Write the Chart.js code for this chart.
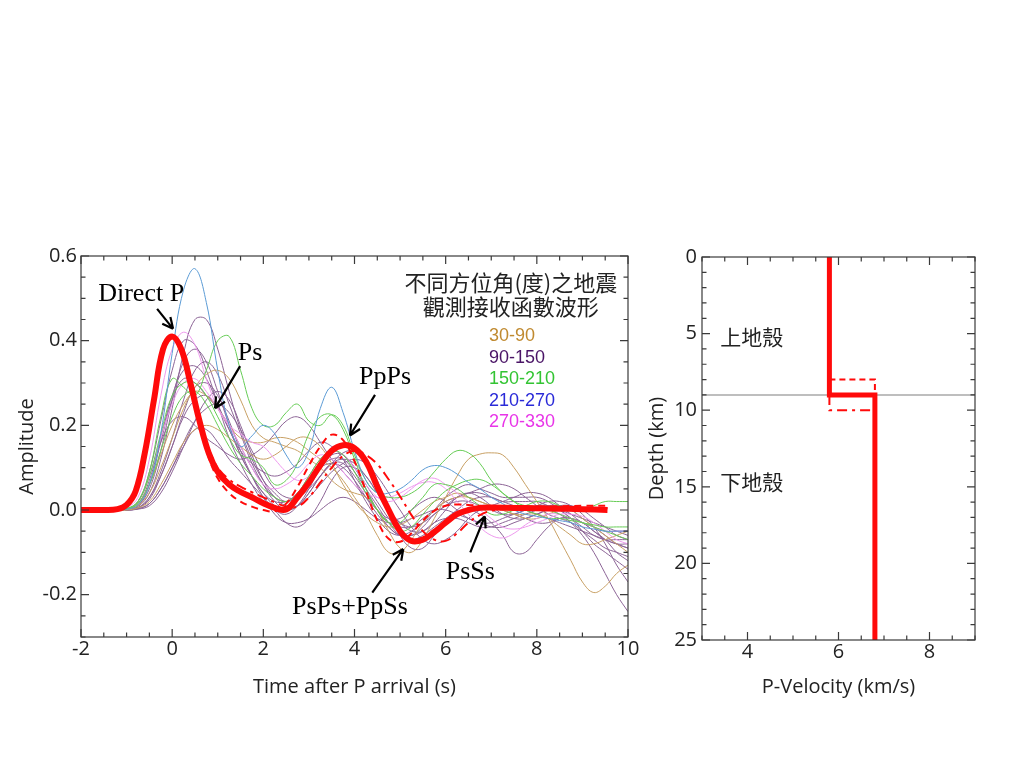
<!DOCTYPE html>
<html>
<head>
<meta charset="utf-8">
<script src="https://cdn.jsdelivr.net/npm/chart.js@4.4.0/dist/chart.umd.min.js"></script>
<style>
  html, body { margin: 0; background: #fff; }
  #wrap { position: relative; width: 1024px; height: 768px; overflow: hidden; }
  #rf   { position: absolute; left: 0;     top: 240px; width: 650px; height: 470px; }
  #vel  { position: absolute; left: 640px; top: 240px; width: 384px; height: 470px; }
</style>
</head>
<body>
<div id="wrap">
  <canvas id="rf" width="650" height="470"></canvas>
  <canvas id="vel" width="384" height="470"></canvas>
</div>
<script>
/* Receiver functions (left) and crustal P-velocity model (right) */

// ---- receiver function panel ----
// sampling times shared by the observed traces (s)
const T = [-2, -1.75, -1.5, -1.25, -1, -0.75, -0.5, -0.25, 0, 0.25, 0.5, 0.75, 1, 1.25, 1.5, 1.75,
           2, 2.25, 2.5, 2.75, 3, 3.25, 3.5, 3.75, 4, 4.25, 4.5, 4.75, 5, 5.25, 5.5, 5.75,
           6, 6.25, 6.5, 6.75, 7, 7.25, 7.5, 7.75, 8, 8.25, 8.5, 8.75, 9, 9.25, 9.5, 9.75, 10];

// observed traces, grouped by back-azimuth bin
const az30_90 = [
  [0,0,0,0, 0.001,0.01,0.04,0.1, 0.17,0.24,0.29,0.32, 0.33,0.31,0.26,0.2, 0.17,0.16,0.15,0.14, 0.12,0.1,0.07,0.05,
   0.04,0.03,0,-0.05, -0.09,-0.1,-0.07,-0.02, 0.03,0.08,0.12,0.132, 0.135,0.13,0.1,0.06, 0.02,-0.02,-0.07,-0.12, -0.17,-0.195,-0.18,-0.15, -0.13],
  [0,0,0,0, 0,0.005,0.02,0.06, 0.11,0.16,0.19,0.2, 0.19,0.17,0.15,0.13, 0.12,0.13,0.15,0.17, 0.17,0.15,0.11,0.06,
   0.02,-0.01,-0.03,-0.04, -0.035,-0.02,0,0.02, 0.03,0.04,0.03,0.02, 0.01,0,-0.01,-0.02, -0.02,-0.01,0,0, -0.02,-0.04,-0.06,-0.08, -0.1],
  [0,0,0,0, 0.002,0.015,0.06,0.13, 0.2,0.25,0.28,0.27, 0.24,0.2,0.17,0.16, 0.16,0.17,0.17,0.16, 0.14,0.12,0.1,0.07,
   0.03,-0.01,-0.06,-0.1, -0.1,-0.07,-0.03,0, 0.02,0.03,0.03,0.02, 0.01,0,-0.01,-0.01, -0.01,-0.02,-0.04,-0.06, -0.08,-0.08,-0.07,-0.06, -0.05],
];
const az90_150 = [
  [0,0,0,0, 0.001,0.008,0.04,0.12, 0.24,0.37,0.45,0.45, 0.38,0.28,0.19,0.12, 0.07,0.04,0.02,0.04, 0.08,0.12,0.14,0.13,
   0.1,0.05,0,-0.04, -0.06,-0.06,-0.04,-0.01, 0.01,0.02,0.02,0.01, 0,-0.01,-0.01,0, 0.01,0.02,0.02,0.01, -0.01,-0.04,-0.08,-0.13, -0.17],
  [0,0,0,0, 0.002,0.02,0.09,0.21, 0.33,0.4,0.39,0.33, 0.25,0.17,0.11,0.06, 0.02,0,-0.01,0.01, 0.05,0.1,0.13,0.13,
   0.1,0.06,0.02,-0.02, -0.05,-0.07,-0.07,-0.05, -0.03,-0.01,0,0.01, 0.01,0,-0.01,-0.02, -0.03,-0.03,-0.02,-0.02, -0.03,-0.05,-0.07,-0.1, -0.12],
  [0,0,0,0, 0.001,0.01,0.05,0.14, 0.26,0.35,0.38,0.35, 0.28,0.2,0.13,0.08, 0.04,0.02,0.02,0.04, 0.07,0.1,0.11,0.1,
   0.07,0.03,-0.01,-0.04, -0.06,-0.06,-0.05,-0.03, -0.02,-0.02,-0.03,-0.04, -0.04,-0.03,-0.02,-0.01, 0,0.01,0.01,0, -0.02,-0.04,-0.06,-0.08, -0.09],
  [0,0,0,0, 0,0.005,0.03,0.09, 0.17,0.26,0.33,0.35, 0.32,0.25,0.18,0.11, 0.06,0.02,0,0.01, 0.04,0.08,0.11,0.12,
   0.11,0.08,0.04,0, -0.03,-0.05,-0.05,-0.03, 0,0.03,0.04,0.03, 0.01,-0.01,-0.02,-0.02, -0.01,0,0.01,0.01, 0,-0.02,-0.04,-0.06, -0.07],
  [0,0,0,0, 0,0.005,0.03,0.08, 0.15,0.23,0.29,0.3, 0.27,0.21,0.14,0.08, 0.03,-0.01,-0.03,-0.03, -0.02,0,0.02,0.03,
   0.02,0,-0.02,-0.03, -0.03,-0.02,-0.01,0, 0,-0.01,-0.02,-0.03, -0.04,-0.04,-0.03,-0.02, -0.01,0,-0.01,-0.03, -0.06,-0.1,-0.15,-0.2, -0.24],
  [0,0,0,0, 0,0.003,0.015,0.05, 0.1,0.16,0.21,0.24, 0.25,0.23,0.19,0.14, 0.09,0.05,0.03,0.03, 0.05,0.08,0.11,0.135,
   0.14,0.12,0.07,0, -0.06,-0.09,-0.09,-0.06, -0.03,-0.01,0,-0.01, -0.03,-0.06,-0.1,-0.1, -0.07,-0.04,-0.02,-0.02, -0.03,-0.05,-0.07,-0.08, -0.09],
  [0,0,0,0, 0,0.003,0.015,0.05, 0.1,0.15,0.19,0.19, 0.16,0.12,0.09,0.06, 0.03,0,-0.03,-0.04, -0.02,0.02,0.07,0.1,
   0.1,0.08,0.04,0, -0.03,-0.04,-0.03,-0.01, 0.01,0.03,0.04,0.04, 0.03,0.02,0.01,0, -0.01,-0.02,-0.03,-0.04, -0.05,-0.06,-0.07,-0.08, -0.08],
  [0,0,0,0, 0.001,0.01,0.06,0.16, 0.26,0.31,0.3,0.27, 0.24,0.2,0.15,0.1, 0.06,0.03,0.02,0.03, 0.06,0.1,0.12,0.12,
   0.09,0.05,0.01,-0.03, -0.06,-0.07,-0.06,-0.04, -0.02,0,0.02,0.03, 0.03,0.02,0.02,0.02, 0.02,0.01,0,-0.02, -0.04,-0.06,-0.07,-0.07, -0.07],
  [0,0,0,0, 0.002,0.015,0.07,0.17, 0.27,0.33,0.34,0.31, 0.25,0.19,0.14,0.11, 0.09,0.08,0.09,0.11, 0.14,0.16,0.15,0.12,
   0.07,0.02,-0.02,-0.05, -0.06,-0.05,-0.03,0, 0.03,0.05,0.06,0.05, 0.04,0.03,0.03,0.03, 0.03,0.02,0,-0.02, -0.05,-0.08,-0.1,-0.12, -0.14],
  [0,0,0,0, 0,0.002,0.01,0.04, 0.09,0.15,0.21,0.26, 0.28,0.26,0.2,0.13, 0.07,0.03,0.01,0.01, 0.03,0.06,0.09,0.11,
   0.12,0.11,0.08,0.04, 0,-0.04,-0.07,-0.08, -0.07,-0.05,-0.02,0, 0.01,0.02,0.03,0.04, 0.04,0.03,0.01,-0.01, -0.03,-0.04,-0.05,-0.05, -0.05],
  [0,0,0,0, 0.002,0.02,0.08,0.16, 0.21,0.22,0.2,0.17, 0.15,0.13,0.12,0.13, 0.15,0.18,0.21,0.22, 0.2,0.16,0.12,0.09,
   0.06,0.03,0,-0.02, -0.02,0,0.02,0.03, 0.02,0,-0.02,-0.03, -0.03,-0.02,-0.01,0, 0.01,0.01,0,-0.01, -0.02,-0.03,-0.04,-0.05, -0.06],
  [0,0,0,0, 0,0.005,0.025,0.08, 0.15,0.22,0.26,0.27, 0.24,0.19,0.13,0.08, 0.04,0.01,0,0.01, 0.04,0.08,0.11,0.11,
   0.08,0.04,0,-0.03, -0.04,-0.04,-0.02,0, 0.02,0.03,0.04,0.05, 0.06,0.06,0.05,0.03, 0.01,-0.01,-0.02,-0.03, -0.05,-0.07,-0.09,-0.1, -0.11],
];
const az150_210 = [
  [0,0,0,0, 0.003,0.02,0.09,0.22, 0.31,0.29,0.27,0.33, 0.4,0.41,0.33,0.24, 0.2,0.2,0.23,0.25, 0.21,0.2,0.225,0.2,
   0.13,0.07,0.04,0.03, 0.03,0.04,0.06,0.09, 0.12,0.14,0.135,0.11, 0.07,0.04,0.02,0.01, 0.005,0,-0.01,-0.02, -0.03,-0.035,-0.04,-0.04, -0.04],
  [0,0,0,0, 0.003,0.02,0.08,0.18, 0.27,0.3,0.3,0.27, 0.22,0.17,0.13,0.12, 0.1,0.06,0.07,0.11, 0.18,0.22,0.225,0.19,
   0.12,0.05,0,-0.03, -0.03,0,0.03,0.06, 0.06,0.05,0.03,0.01, -0.01,-0.01,0,0.01, 0.02,0.02,0.01,0, 0,0.01,0.02,0.02, 0.02],
  [0,0,0,0, 0.002,0.015,0.06,0.14, 0.22,0.27,0.28,0.25, 0.2,0.15,0.11,0.08, 0.05,0.03,0.02,0.04, 0.08,0.12,0.14,0.13,
   0.09,0.04,0,-0.03, -0.05,-0.04,-0.01,0.02, 0.045,0.06,0.07,0.072, 0.06,0.04,0.02,0, -0.01,-0.02,-0.02,-0.025, -0.03,-0.04,-0.05,-0.06, -0.07],
];
const az210_270 = [
  [0,0,0,0, 0.002,0.012,0.06,0.18, 0.37,0.52,0.57,0.49, 0.33,0.2,0.15,0.175, 0.2,0.18,0.13,0.1, 0.14,0.24,0.29,0.23,
   0.14,0.07,0.04,0.04, 0.05,0.07,0.095,0.105, 0.1,0.085,0.065,0.05, 0.03,0.015,0,-0.01, -0.015,-0.02,-0.025,-0.03, -0.04,-0.045,-0.05,-0.05, -0.05],
];
const az270_330 = [
  [0,0,0,0, 0.005,0.03,0.12,0.27, 0.38,0.42,0.39,0.31, 0.24,0.2,0.18,0.16, 0.15,0.12,0.09,0.07, 0.08,0.11,0.14,0.13,
   0.1,0.06,0.03,0.02, 0.03,0.05,0.07,0.075, 0.06,0.04,0.02,0, -0.02,-0.04,-0.045,-0.04, -0.03,-0.02,-0.01,-0.01, -0.015,-0.03,-0.05,-0.07, -0.08],
  [0,0,0,0, 0.002,0.02,0.08,0.17, 0.25,0.3,0.31,0.28, 0.24,0.2,0.15,0.1, 0.06,0.05,0.06,0.08, 0.11,0.13,0.12,0.09,
   0.06,0.04,0.03,0.03, 0.04,0.055,0.065,0.065, 0.05,0.02,-0.01,-0.04, -0.06,-0.066,-0.055,-0.035, -0.02,-0.01,-0.01,-0.02, -0.03,-0.04,-0.05,-0.05, -0.05],
];

// synthetic receiver functions: best model (thick) and two alternative interface depths
const synT = [-2, -1.5, -1.2, -1, -0.8, -0.6, -0.4, -0.2, 0, 0.2, 0.4, 0.6, 0.8, 1, 1.25, 1.5, 1.75,
              2, 2.25, 2.5, 2.75, 3, 3.25, 3.5, 3.75, 4, 4.25, 4.5, 4.75, 5, 5.25, 5.5, 5.75,
              6, 6.25, 6.5, 6.75, 7, 7.5, 8, 8.5, 9, 9.55];
const synBest = [0, 0, 0.002, 0.012, 0.045, 0.135, 0.26, 0.38, 0.41, 0.38, 0.3, 0.21, 0.135, 0.09, 0.06, 0.043, 0.03,
                 0.016, 0.005, 0.001, 0.03, 0.065, 0.106, 0.14, 0.153, 0.146, 0.115, 0.055, 0, -0.05, -0.073, -0.07, -0.052,
                 -0.03, -0.01, 0, 0.005, 0.006, 0.005, 0.004, 0.003, 0.002, 0];
const synShallow = [0, 0, 0.002, 0.012, 0.045, 0.135, 0.26, 0.38, 0.41, 0.38, 0.3, 0.205, 0.125, 0.075, 0.04, 0.02, 0.008,
                    0, -0.003, 0.015, 0.055, 0.105, 0.15, 0.178, 0.165, 0.115, 0.045, -0.025, -0.068, -0.075, -0.055, -0.025, -0.002,
                    0.01, 0.013, 0.012, 0.01, 0.009, 0.008, 0.008, 0.009, 0.01, 0.01];
const synDeep = [0, 0, 0.002, 0.012, 0.045, 0.135, 0.26, 0.38, 0.41, 0.38, 0.3, 0.215, 0.145, 0.1, 0.072, 0.055, 0.042,
                 0.03, 0.018, 0.008, 0.008, 0.03, 0.065, 0.1, 0.128, 0.14, 0.13, 0.108, 0.072, 0.032, -0.012, -0.05, -0.07,
                 -0.073, -0.055, -0.03, -0.012, -0.002, 0.004, 0.005, 0.006, 0.005, 0.004];

const phaseNames  = ['Direct P', 'Ps', 'PpPs', 'PsPs+PpSs', 'PsSs'];
const legendTitle = ['不同方位角(度)之地震', '觀測接收函數波形'];
const azimuthBins = ['30-90', '90-150', '150-210', '210-270', '270-330'];

// ---- velocity model panel ----
const modelVel   = [5.8, 5.8, 6.8, 6.8];
const modelDepth = [0, 9, 9, 25];
const altVelA    = [5.8, 6.8, 6.8];
const altDepthA  = [8, 8, 9];
const altVelB    = [5.8, 5.8, 6.8];
const altDepthB  = [9, 10, 10];
const interfaceDepth = 9;
const layerNames = ['上地殼', '下地殼'];
const layerDepth = [5.2, 14.7];

// ---- styling ----
const binColors   = ['#c08a30', '#4a1466', '#33c433', '#2a2ad8', '#e835e8'];
const traceColors = ['#c8a064', '#8c6496', '#66cc55', '#5b9bd5', '#ee99ee'];
const RED = '#ff0a0a';
const AXIS_FONT  = { family: 'Open Sans', size: 20 };
const TITLE_FONT = { family: 'Open Sans', size: 20 };

const pts = (xs, ys) => xs.map((x, i) => ({ x, y: ys[i] }));

// inward ticks on all four sides + frame
const boxTicks = {
  id: 'boxTicks',
  afterDatasetsDraw(chart, args, o) {
    const { ctx, chartArea: a, scales: { x, y } } = chart;
    ctx.save();
    ctx.strokeStyle = '#3a3a3a';
    ctx.lineWidth = 1.2;
    ctx.strokeRect(a.left, a.top, a.right - a.left, a.bottom - a.top);
    ctx.beginPath();
    const marks = (sc, step, major, fn) => {
      const n = Math.round((sc.max - sc.min) / step);
      for (let i = 0; i <= n; i++) {
        const v = sc.min + i * step;
        const r = v / major;
        fn(sc.getPixelForValue(v), Math.abs(r - Math.round(r)) < 1e-6 ? 8 : 4.5);
      }
    };
    marks(x, o.xMinor, o.xMajor, (p, len) => {
      ctx.moveTo(p, a.bottom); ctx.lineTo(p, a.bottom - len);
      ctx.moveTo(p, a.top);    ctx.lineTo(p, a.top + len);
    });
    marks(y, o.yMinor, o.yMajor, (p, len) => {
      ctx.moveTo(a.left, p);  ctx.lineTo(a.left + len, p);
      ctx.moveTo(a.right, p); ctx.lineTo(a.right - len, p);
    });
    ctx.stroke();
    ctx.restore();
  }
};

function arrow(ctx, x0, y0, x1, y1) {
  const ang = Math.atan2(y1 - y0, x1 - x0);
  ctx.beginPath();
  ctx.moveTo(x0, y0);
  ctx.lineTo(x1, y1);
  for (const s of [-1, 1]) {
    ctx.moveTo(x1, y1);
    ctx.lineTo(x1 - 12 * Math.cos(ang + s * 0.45), y1 - 12 * Math.sin(ang + s * 0.45));
  }
  ctx.stroke();
}

// phase labels, arrows and azimuth legend (positions in data units)
const labelAt   = [[-0.68, 0.51], [1.71, 0.37], [4.67, 0.314], [3.9, -0.23], [6.54, -0.148]];
const arrowFrom = [[-0.33, 0.475], [1.49, 0.34], [4.45, 0.272], [4.39, -0.195], [6.54, -0.1]];
const arrowTo   = [[0.02, 0.428], [0.94, 0.24], [3.9, 0.176], [5.07, -0.092], [6.86, -0.015]];

const rfNotes = {
  id: 'rfNotes',
  afterDraw(chart) {
    const { ctx, scales: { x, y } } = chart;
    const px = p => [x.getPixelForValue(p[0]), y.getPixelForValue(p[1])];
    ctx.save();
    ctx.fillStyle = '#000';
    ctx.strokeStyle = '#000';
    ctx.lineWidth = 2.2;
    ctx.font = '26px "Liberation Serif"';
    ctx.textAlign = 'center';
    ctx.textBaseline = 'middle';
    phaseNames.forEach((name, i) => {
      const [lx, ly] = px(labelAt[i]);
      ctx.fillText(name, lx, ly);
      const [x0, y0] = px(arrowFrom[i]);
      const [x1, y1] = px(arrowTo[i]);
      arrow(ctx, x0, y0, x1, y1);
    });

    ctx.fillStyle = '#222';
    ctx.font = '22px "Noto Sans CJK TC"';
    ctx.fillText(legendTitle[0], x.getPixelForValue(7.43), y.getPixelForValue(0.538));
    ctx.fillText(legendTitle[1], x.getPixelForValue(7.43), y.getPixelForValue(0.48));

    ctx.font = '18px "Liberation Sans"';
    ctx.textAlign = 'left';
    azimuthBins.forEach((b, i) => {
      ctx.fillStyle = binColors[i];
      ctx.fillText(b, x.getPixelForValue(6.95), y.getPixelForValue(0.41 - 0.0505 * i));
    });
    ctx.restore();
  }
};

const traceSets = [];
const groupOrder = [az210_270, az150_210, az270_330, az30_90, az90_150];
const groupColor = [traceColors[3], traceColors[2], traceColors[4], traceColors[0], traceColors[1]];
groupOrder.forEach((group, g) => {
  group.forEach(vals => traceSets.push({
    data: pts(T, vals),
    borderColor: groupColor[g],
    borderWidth: 1,
  }));
});

new Chart(document.getElementById('rf'), {
  type: 'scatter',
  data: {
    datasets: [
      { data: pts(synT, synBest), borderColor: RED, borderWidth: 6 },
      { data: pts(synT, synShallow), borderColor: RED, borderWidth: 2, borderDash: [7, 5] },
      { data: pts(synT, synDeep), borderColor: RED, borderWidth: 2, borderDash: [10, 5, 3, 5] },
      ...traceSets,
    ],
  },
  options: {
    responsive: false,
    animation: false,
    events: [],
    showLine: true,
    elements: { point: { radius: 0 }, line: { tension: 0.4 } },
    layout: { padding: { top: 12, right: 22, left: 0, bottom: 0 } },
    plugins: {
      legend: { display: false },
      tooltip: { enabled: false },
      boxTicks: { xMinor: 0.5, xMajor: 2, yMinor: 0.05, yMajor: 0.2 },
    },
    scales: {
      x: {
        min: -2, max: 10,
        grid: { display: false, drawTicks: false },
        border: { display: false },
        ticks: { stepSize: 2, padding: 0, color: '#222', font: AXIS_FONT, maxRotation: 0 },
        title: { display: true, text: 'Time after P arrival (s)', color: '#222', font: TITLE_FONT, padding: { top: 0, bottom: 11 } },
        afterFit: s => { s.height = 73; },
      },
      y: {
        min: -0.3, max: 0.6,
        grid: { display: false, drawTicks: false },
        border: { display: false },
        ticks: { stepSize: 0.2, includeBounds: false, padding: 4, color: '#222', font: AXIS_FONT,
                 callback: v => v.toFixed(1) },
        title: { display: true, text: 'Amplitude', color: '#222', font: TITLE_FONT, padding: { top: 15, bottom: 0 } },
        afterFit: s => { s.width = 81; },
      },
    },
  },
  plugins: [boxTicks, rfNotes],
});

// velocity panel extras
const velNotes = {
  id: 'velNotes',
  beforeDatasetsDraw(chart) {
    const { ctx, chartArea: a, scales: { y } } = chart;
    const py = y.getPixelForValue(interfaceDepth);
    ctx.save();
    ctx.strokeStyle = '#a8a8a8';
    ctx.lineWidth = 1.5;
    ctx.beginPath();
    ctx.moveTo(a.left, py);
    ctx.lineTo(a.right, py);
    ctx.stroke();
    ctx.restore();
  },
  afterDraw(chart) {
    const { ctx, scales: { x, y } } = chart;
    ctx.save();
    ctx.fillStyle = '#222';
    ctx.font = '21px "Noto Sans CJK TC"';
    ctx.textAlign = 'left';
    ctx.textBaseline = 'middle';
    layerNames.forEach((n, i) => ctx.fillText(n, x.getPixelForValue(3.4), y.getPixelForValue(layerDepth[i])));
    ctx.restore();
  }
};

new Chart(document.getElementById('vel'), {
  type: 'scatter',
  data: {
    datasets: [
      { data: pts(modelVel, modelDepth), borderColor: RED, borderWidth: 5 },
      { data: pts(altVelA, altDepthA), borderColor: RED, borderWidth: 2, borderDash: [6, 4] },
      { data: pts(altVelB, altDepthB), borderColor: RED, borderWidth: 2, borderDash: [10, 5, 3, 5] },
    ],
  },
  options: {
    responsive: false,
    animation: false,
    events: [],
    showLine: true,
    elements: { point: { radius: 0 }, line: { tension: 0 } },
    layout: { padding: { top: 15, right: 49, left: 0, bottom: 0 } },
    plugins: {
      legend: { display: false },
      tooltip: { enabled: false },
      boxTicks: { xMinor: 0.5, xMajor: 2, yMinor: 1, yMajor: 5 },
    },
    scales: {
      x: {
        min: 3, max: 9,
        grid: { display: false, drawTicks: false },
        border: { display: false },
        ticks: { stepSize: 1, padding: 0, color: '#222', font: AXIS_FONT, maxRotation: 0,
                 autoSkip: false, callback: v => (v % 2 === 0 ? v : '') },
        title: { display: true, text: 'P-Velocity (km/s)', color: '#222', font: TITLE_FONT, padding: { top: 0, bottom: 11 } },
        afterFit: s => { s.height = 70; },
      },
      y: {
        min: 0, max: 25, reverse: true,
        grid: { display: false, drawTicks: false },
        border: { display: false },
        ticks: { stepSize: 5, padding: 5, color: '#222', font: AXIS_FONT },
        title: { display: true, text: 'Depth (km)', color: '#222', font: TITLE_FONT, padding: { top: 5, bottom: 0 } },
        afterFit: s => { s.width = 62; },
      },
    },
  },
  plugins: [boxTicks, velNotes],
});
</script>
</body>
</html>
